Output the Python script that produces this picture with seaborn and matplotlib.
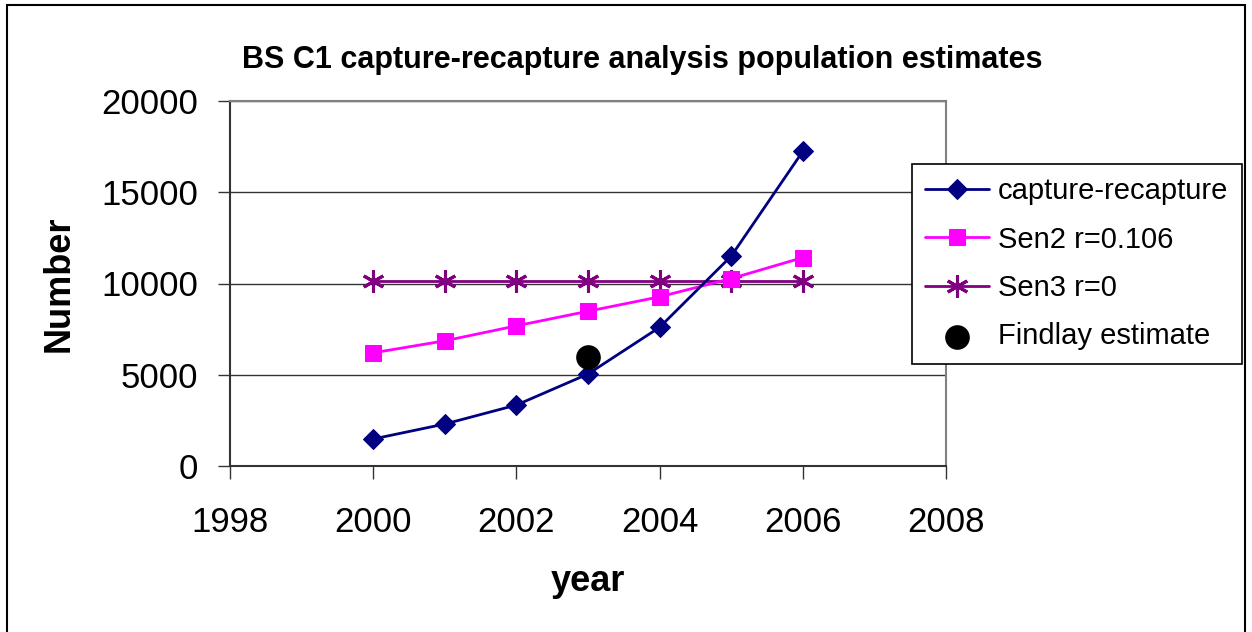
import matplotlib.pyplot as plt
import pandas as pd
import seaborn as sns
from matplotlib.patches import Rectangle

# ── Data ──────────────────────────────────────────────────────────────────────
years = [2000, 2001, 2002, 2003, 2004, 2005, 2006]
capture_recapture = [1480, 2300, 3340, 5040, 7600, 11500, 17240]
sen2_r0106 = [6200, 6860, 7680, 8480, 9270, 10270, 11420]
sen3_r0 = [10130, 10130, 10130, 10130, 10130, 10130, 10130]
findlay_year = [2003]
findlay_estimate = [5950]

series_labels = ["capture-recapture", "Sen2 r=0.106", "Sen3 r=0", "Findlay estimate"]
x_ticks = [1998, 2000, 2002, 2004, 2006, 2008]
y_ticks = [0, 5000, 10000, 15000, 20000]

sns.set_theme(style="white")
plt.rcParams["font.family"] = ["Liberation Sans", "DejaVu Sans"]
plt.rcParams["text.color"] = "black"
plt.rcParams["axes.labelcolor"] = "black"
plt.rcParams["xtick.color"] = "black"
plt.rcParams["ytick.color"] = "black"

W, H = 1252, 632
fig = plt.figure(figsize=(W / 100, H / 100), dpi=100)
ax = fig.add_axes([230 / W, 1 - 466 / H, (946 - 230) / W, (466 - 101) / H])

df = pd.DataFrame({
    "year": years,
    "capture": capture_recapture,
    "sen2": sen2_r0106,
    "sen3": sen3_r0,
})
findlay = pd.DataFrame({"year": findlay_year, "value": findlay_estimate})

# ── Series ────────────────────────────────────────────────────────────────────
for gridline in y_ticks[1:]:
    ax.axhline(gridline, color="#333333", lw=1, zorder=0)

sns.lineplot(data=df, x="year", y="sen3", ax=ax, color="#800080", lw=2,
             marker=(6, 2, 0), markersize=16, markeredgewidth=2.2,
             markeredgecolor="#800080", label=series_labels[2], zorder=3)
sns.lineplot(data=df, x="year", y="sen2", ax=ax, color="#FF00FF", lw=2,
             marker="s", markersize=11, markeredgecolor="#FF00FF",
             label=series_labels[1], zorder=4)
sns.lineplot(data=df, x="year", y="capture", ax=ax, color="#000080", lw=2,
             marker="D", markersize=10.5, markeredgecolor="#000080",
             label=series_labels[0], zorder=5)
sns.scatterplot(data=findlay, x="year", y="value", ax=ax, color="black",
                s=270, edgecolor="black", label=series_labels[3], zorder=6)

# ── Axes styling ──────────────────────────────────────────────────────────────
ax.set_xlim(1998, 2008)
ax.set_ylim(0, 20000)
ax.set_xticks(x_ticks)
ax.set_yticks(y_ticks)
ax.tick_params(axis="both", labelsize=25, direction="out", length=9,
               width=1, color="#333333", left=True, bottom=True)
ax.tick_params(axis="x", pad=20)
ax.tick_params(axis="y", pad=14)
for side, spine in ax.spines.items():
    spine.set_visible(True)
    spine.set_color("#808080" if side in ("top", "right") else "#333333")
    spine.set_linewidth(1.5)
ax.set_xlabel("year", fontsize=26, fontweight="bold", labelpad=18)
ax.set_ylabel("Number", fontsize=26, fontweight="bold", labelpad=18)

fig.text(642 / W, 1 - 60 / H, "BS C1 capture-recapture analysis population estimates",
         ha="center", va="center", fontsize=22, fontweight="bold")

# ── Legend ────────────────────────────────────────────────────────────────────
handles, labels = ax.get_legend_handles_labels()
order = [labels.index(l) for l in series_labels]
ax.get_legend().remove()
leg = fig.legend([handles[i] for i in order], [labels[i] for i in order],
                 loc="upper left", bbox_to_anchor=(912 / W, 1 - 164 / H),
                 fontsize=21, frameon=True, fancybox=False, framealpha=1,
                 edgecolor="black", borderaxespad=0, borderpad=0.45,
                 handlelength=2.2, handletextpad=0.3, labelspacing=0.7)
leg.get_frame().set_linewidth(1.2)

# outer chart border
fig.patches.append(Rectangle((7 / W, -0.02), (1245 - 7) / W, 1.0 - 5 / H + 0.02,
                             transform=fig.transFigure, fill=False,
                             edgecolor="black", lw=1.5))

fig.savefig("out.png", dpi=100)
